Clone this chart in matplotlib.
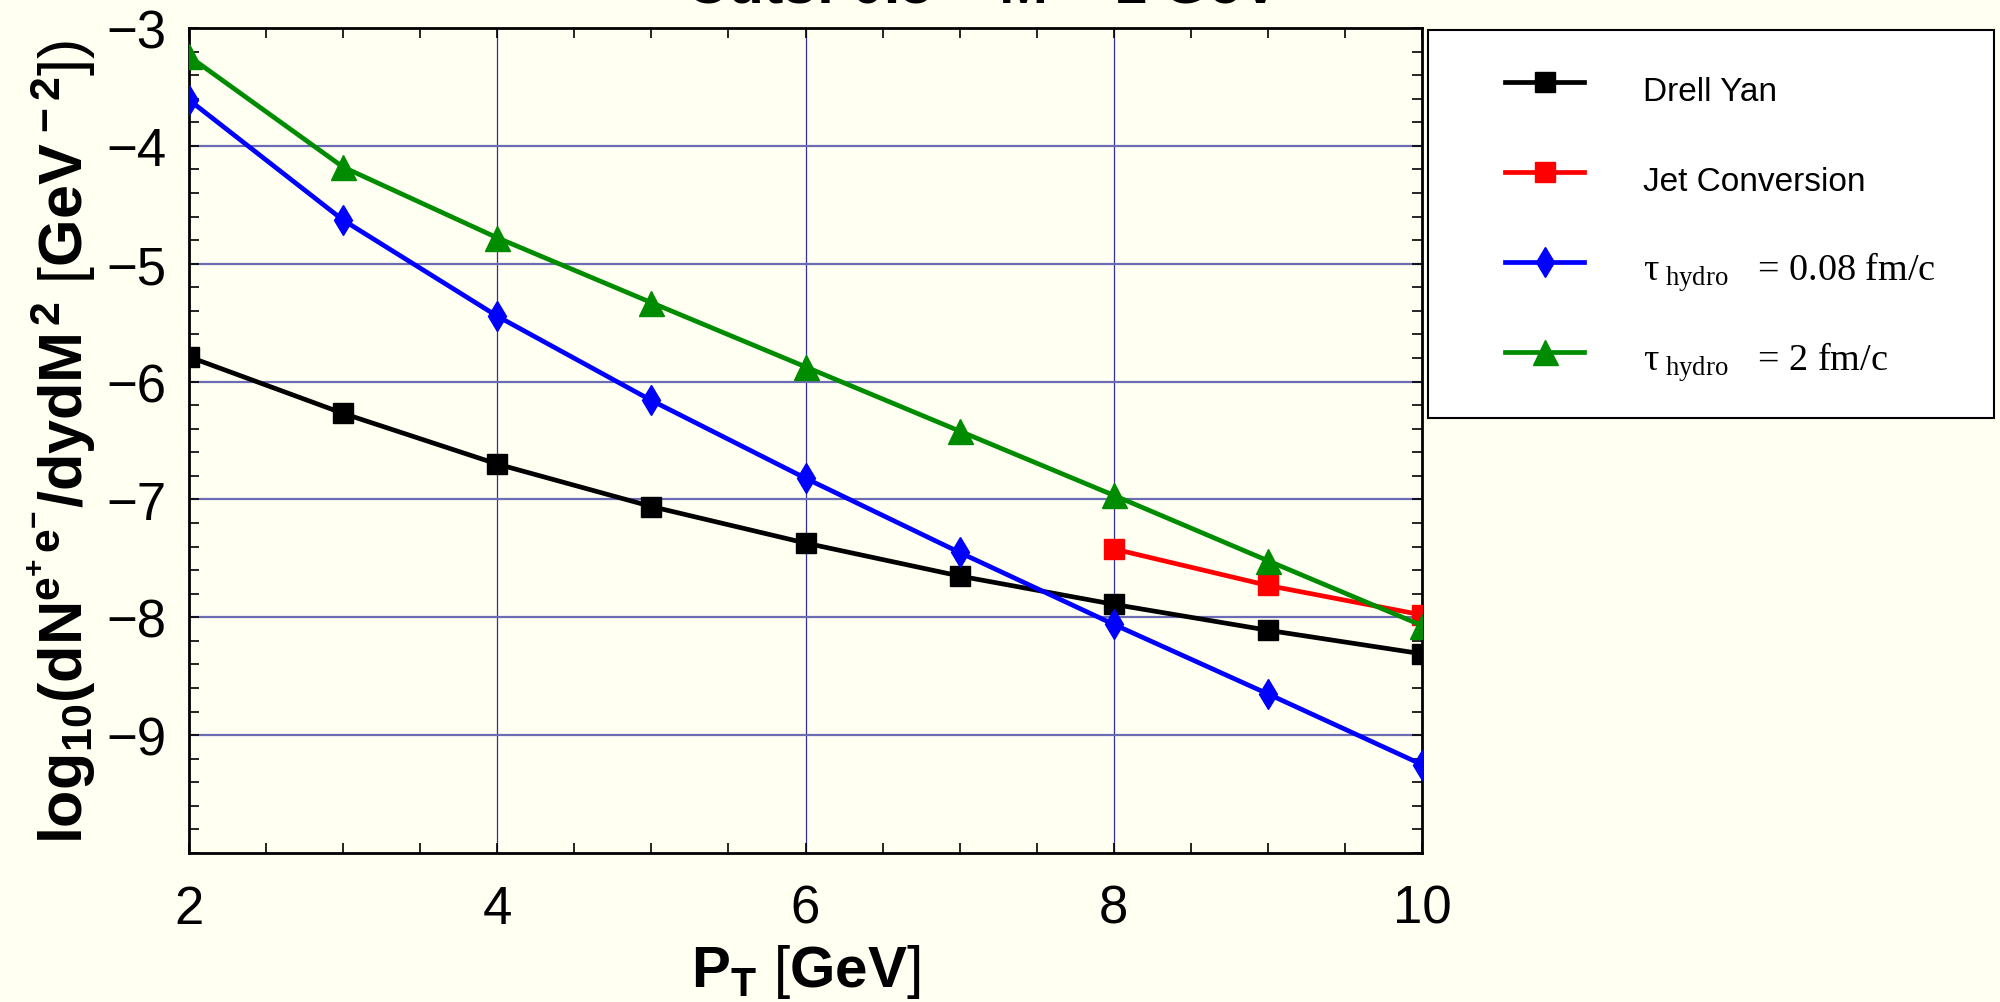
import matplotlib
matplotlib.use("Agg")
import matplotlib.pyplot as plt
from matplotlib.legend_handler import HandlerLine2D
from matplotlib.ticker import MultipleLocator

# Dilepton yield vs. transverse momentum (log10 scale)
pt = [2, 3, 4, 5, 6, 7, 8, 9, 10]
drell_yan = [-5.79, -6.27, -6.70, -7.06, -7.37, -7.65, -7.89, -8.11, -8.31]
jet_pt = [8, 9, 10]
jet_conversion = [-7.42, -7.73, -7.98]
hydro_008 = [-3.61, -4.63, -5.445, -6.16, -6.82, -7.45, -8.06, -8.65, -9.25]
hydro_2 = [-3.24, -4.18, -4.78, -5.33, -5.875, -6.42, -6.965, -7.52, -8.07]

labels = [
    "Drell Yan",
    "Jet Conversion",
    r"$\mathrm{\tau}_{\ \mathrm{hydro}}$   = 0.08 fm/c",
    r"$\mathrm{\tau}_{\ \mathrm{hydro}}$   = 2 fm/c",
]
x_ticks = [2, 4, 6, 8, 10]
y_ticks = [-9, -8, -7, -6, -5, -4, -3]
title = "Cuts: 0.5 < M < 1 GeV"

plt.rcParams["font.family"] = ["Liberation Sans", "DejaVu Sans"]
plt.rcParams["mathtext.fontset"] = "custom"
plt.rcParams["mathtext.rm"] = "Liberation Serif"
plt.rcParams["mathtext.it"] = "Liberation Serif:italic"
plt.rcParams["mathtext.bf"] = "Liberation Sans:bold"
plt.rcParams["mathtext.sf"] = "Liberation Sans"

bg = "#fffff2"
fig = plt.figure(figsize=(20, 10.03), dpi=100, facecolor=bg)
ax = fig.add_axes([189 / 2000, 1 - 854 / 1003, (1422 - 189) / 2000, (854 - 29) / 1003])
ax.set_facecolor(bg)

lw = 3.4
h1, = ax.plot(pt, drell_yan, color="black", lw=lw, marker="s", ms=14.5, zorder=3)
h2, = ax.plot(jet_pt, jet_conversion, color="#ff0000", lw=lw, marker="s", ms=14.5, zorder=3)
h3, = ax.plot(pt, hydro_008, color="#0000ff", lw=lw, marker="d", ms=15, zorder=3)
h4, = ax.plot(pt, hydro_2, color="#008c00", lw=lw, marker="^", ms=18, zorder=3)

ax.set_xlim(2, 10)
ax.set_ylim(-10, -3)
ax.set_xticks(x_ticks)
ax.set_yticks(y_ticks)
ax.xaxis.set_minor_locator(MultipleLocator(0.5))
ax.yaxis.set_minor_locator(MultipleLocator(0.2))

# grid: vertical lines thin navy, horizontal lines a bit lighter
for xv in x_ticks[1:-1]:
    ax.axvline(xv, color="#3030a0", lw=0.9, zorder=1)
for yv in [-4, -5, -6, -7, -8, -9]:
    ax.axhline(yv, color="#6c6cb4", lw=1.6, zorder=1)

for s in ax.spines.values():
    s.set_linewidth(2.0)
    s.set_color("black")

ax.tick_params(which="both", direction="in", top=True, right=True,
               length=7, width=1.2, colors="black")
ax.tick_params(axis="x", which="major", labelsize=38, pad=22)
ax.tick_params(axis="y", which="major", labelsize=38, pad=16)

ax.set_xlabel(r"$\mathbf{P_T}$ [$\mathbf{GeV}$]", fontsize=42, labelpad=6)
ax.set_ylabel(r"$\mathbf{log_{10}(dN^{e^{+}\,e^{-}}/dydM^{\,2}}$ [$\mathbf{GeV^{\,-2}}$])",
              fontsize=44, labelpad=6)

fig.text(0.4915, 1 - 3 / 1003, title, ha="center", va="baseline",
         fontsize=42, fontweight="bold")

handles = [h1, h2, h3, h4]
leg = fig.legend(
    handles, labels,
    loc="upper left",
    bbox_to_anchor=(1428 / 2000, 1 - 31 / 1003, (1994 - 1428) / 2000, 0),
    mode="expand", borderaxespad=0, borderpad=1.0,
    labelspacing=1.155, handlelength=3.69, handleheight=2.0, handletextpad=1.75,
    fontsize=24, frameon=True, fancybox=False, framealpha=1,
    facecolor="white", edgecolor="black",
    handler_map={h: HandlerLine2D(xpad=1.3) for h in handles},
)
leg.get_frame().set_linewidth(1.5)
for t in leg.get_texts()[2:]:
    t.set_family("Liberation Serif")
    t.set_fontsize(27.5)

fig.savefig("out.png", dpi=100, facecolor=bg)
